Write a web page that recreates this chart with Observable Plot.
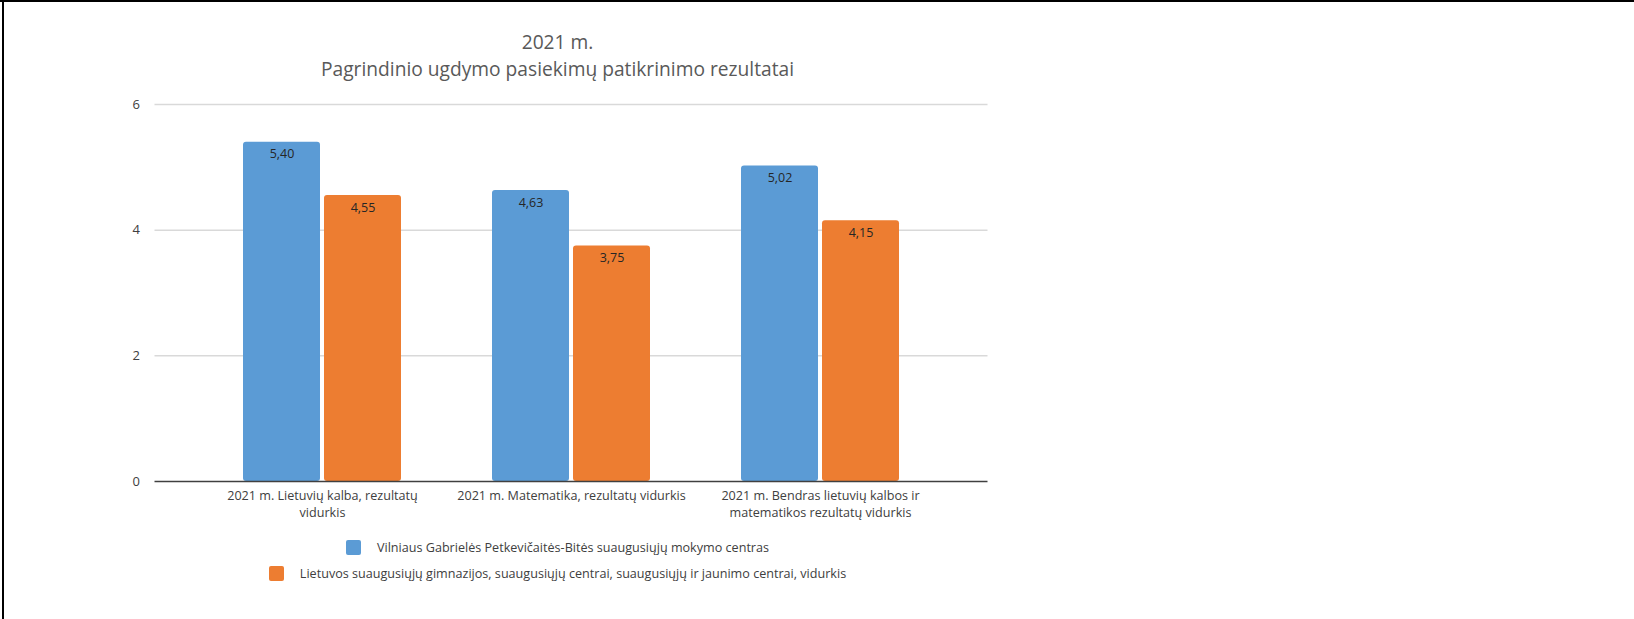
<!DOCTYPE html>
<html>
<head>
<meta charset="utf-8">
<script src="https://cdn.jsdelivr.net/npm/d3@7"></script>
<script src="https://cdn.jsdelivr.net/npm/@observablehq/plot@0.6"></script>
<style>
html, body { margin: 0; padding: 0; background: #fff; }
body { width: 1634px; height: 619px; overflow: hidden; position: relative; font-family: "Open Sans", sans-serif; }
#topborder { position: absolute; left: 0; top: 0; width: 1634px; height: 2px; background: #000; }
#leftborder { position: absolute; left: 2px; top: 0; width: 2px; height: 619px; background: #000; }
#title { position: absolute; left: 0; top: 29px; width: 1115px; text-align: center; color: #595959; font-size: 19.2px; line-height: 26.5px; }
#plot { position: absolute; left: 0; top: 84px; }
#legend { position: absolute; left: 0; top: 534px; width: 1115px; }
.row { display: flex; justify-content: center; align-items: center; height: 26px; color: #404040; font-size: 12.6px; }
.sw { width: 15px; height: 15px; border-radius: 2px; margin-right: 16px; flex: none; }
</style>
</head>
<body>
<div id="topborder"></div>
<div id="leftborder"></div>
<div id="title"></div>
<div id="plot"></div>
<div id="legend"></div>
<script>
const titleLines = ["2021 m.", "Pagrindinio ugdymo pasiekimų patikrinimo rezultatai"];
const categories = [
  "2021 m. Lietuvių kalba, rezultatų vidurkis",
  "2021 m. Matematika, rezultatų vidurkis",
  "2021 m. Bendras lietuvių kalbos ir matematikos rezultatų vidurkis"
];
const categoryLabels = [
  "2021 m. Lietuvių kalba, rezultatų\nvidurkis",
  "2021 m. Matematika, rezultatų vidurkis",
  "2021 m. Bendras lietuvių kalbos ir\nmatematikos rezultatų vidurkis"
];
const seriesNames = [
  "Vilniaus Gabrielės Petkevičaitės-Bitės suaugusiųjų mokymo centras",
  "Lietuvos suaugusiųjų gimnazijos, suaugusiųjų centrai, suaugusiųjų ir jaunimo centrai, vidurkis"
];
const vilniusValues = [5.40, 4.63, 5.02];
const lietuvaValues = [4.55, 3.75, 4.15];
const seriesColors = ["#5b9bd5", "#ed7d31"];
const yTicks = [0, 2, 4, 6];

const blueRows = categories.map((c, i) => ({category: c, series: seriesNames[0], value: vilniusValues[i]}));
const orangeRows = categories.map((c, i) => ({category: c, series: seriesNames[1], value: lietuvaValues[i]}));
const fmt = d => d.value.toFixed(2).replace(".", ",");
const labelOf = c => categoryLabels[categories.indexOf(c)];

document.getElementById("title").innerHTML = titleLines.map(t => `<div>${t}</div>`).join("");

const chart = Plot.plot({
  width: 1115,
  height: 446,
  marginLeft: 154.5,
  marginRight: 127.5,
  marginTop: 20,
  marginBottom: 49,
  style: {fontFamily: "'Open Sans', sans-serif", fontSize: "12.5px", color: "#404040", background: "transparent"},
  x: {type: "band", domain: categories, paddingInner: 0.3635, paddingOuter: 0.351},
  y: {domain: [0, 6]},
  color: {domain: seriesNames, range: seriesColors},
  marks: [
    Plot.ruleY(yTicks.filter(d => d > 0), {stroke: "#d9d9d9", strokeWidth: 1.5}),
    Plot.axisY({ticks: yTicks, tickSize: 0, tickPadding: 15, tickFormat: d => String(d), label: null, fill: "#404040", fontSize: 13}),
    Plot.axisX({tickSize: 0, tickPadding: 7, tickFormat: labelOf, label: null, lineHeight: 1.33, fill: "#404040", fontSize: 12.6}),
    Plot.barY(blueRows, {x: "category", y: "value", fill: "series", insetRight: 81, rx: 3}),
    Plot.barY(orangeRows, {x: "category", y: "value", fill: "series", insetLeft: 81, rx: 3}),
    Plot.ruleY([0], {stroke: "#404040", strokeWidth: 1.5}),
    Plot.text(blueRows, {x: "category", y: "value", text: fmt, dx: -40.5, dy: 12, fill: "#262626", fontSize: 12.5}),
    Plot.text(orangeRows, {x: "category", y: "value", text: fmt, dx: 40.5, dy: 12, fill: "#262626", fontSize: 12.5})
  ]
});
document.getElementById("plot").appendChild(chart);

const legend = document.getElementById("legend");
seriesNames.forEach((name, i) => {
  const row = document.createElement("div");
  row.className = "row";
  const sw = document.createElement("span");
  sw.className = "sw";
  sw.style.background = seriesColors[i];
  const lab = document.createElement("span");
  lab.textContent = name;
  row.appendChild(sw);
  row.appendChild(lab);
  legend.appendChild(row);
});
</script>
</body>
</html>
